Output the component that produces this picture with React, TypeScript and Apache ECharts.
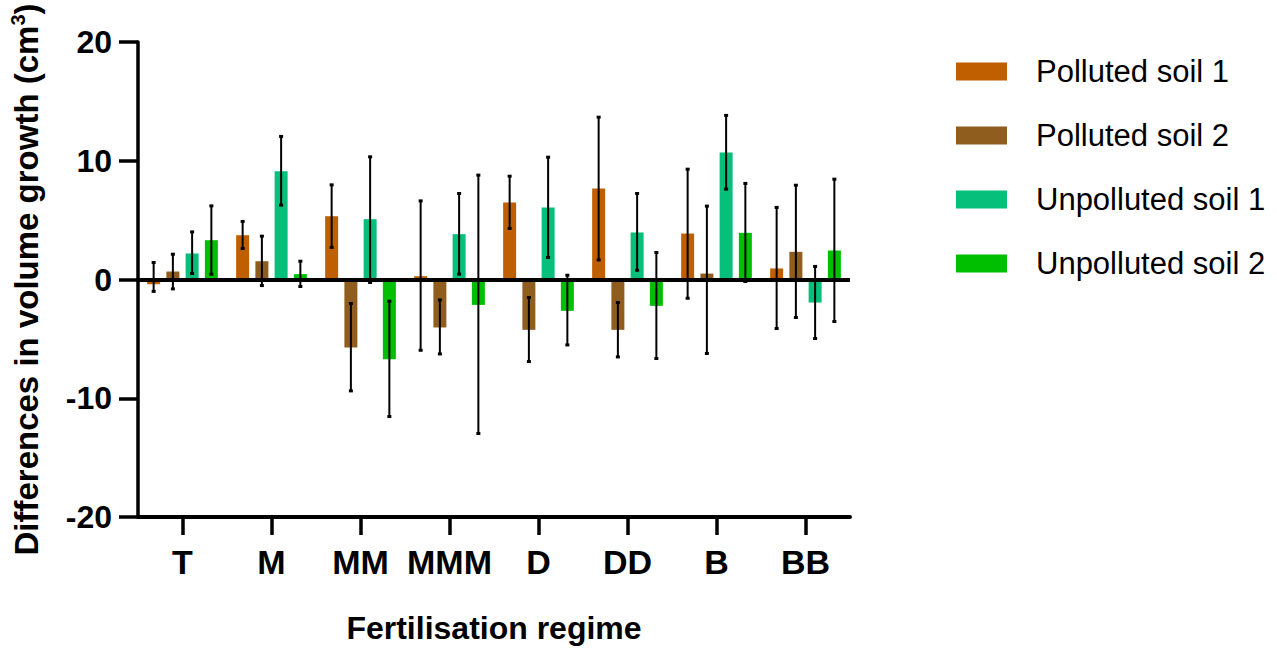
import React, { useEffect, useRef } from "react";
import * as echarts from "echarts";

const categories = ["T", "M", "MM", "MMM", "D", "DD", "B", "BB"];
const seriesNames = ["Polluted soil 1", "Polluted soil 2", "Unpolluted soil 1", "Unpolluted soil 2"];
const seriesColors = ["#C05F00", "#8F5E1F", "#06BF7A", "#00BF00"];
const yTicks = [-20, -10, 0, 10, 20];

const polluted1 = [-0.4, 3.73, 5.33, 0.28, 6.49, 7.67, 3.87, 0.93];
const polluted1Low = [-1.0, 2.61, 2.7, -5.96, 4.3, 1.65, -1.58, -4.13];
const polluted1High = [1.43, 4.89, 7.97, 6.62, 8.7, 13.67, 9.29, 6.07];

const polluted2 = [0.67, 1.54, -5.73, -4.04, -4.24, -4.24, 0.5, 2.33];
const polluted2Low = [-0.79, -0.51, -9.38, -6.27, -6.91, -6.52, -6.23, -3.2];
const polluted2High = [2.13, 3.65, -2.02, -1.72, -1.52, -1.94, 6.18, 7.94];

const unpolluted1 = [2.19, 9.12, 5.08, 3.82, 6.07, 3.96, 10.7, -1.94];
const unpolluted1Low = [0.5, 6.26, -0.25, 0.45, 1.85, 0.78, 7.61, -4.97];
const unpolluted1High = [4.01, 12.05, 10.33, 7.24, 10.3, 7.24, 13.82, 1.1];

const unpolluted2 = [3.31, 0.45, -6.72, -2.14, -2.64, -2.22, 3.93, 2.44];
const unpolluted2Low = [0.45, -0.59, -11.54, -12.97, -5.51, -6.65, -0.17, -3.54];
const unpolluted2High = [6.2, 1.54, -1.83, 8.79, 0.36, 2.27, 8.09, 8.45];

const means = [polluted1, polluted2, unpolluted1, unpolluted2];
const lows = [polluted1Low, polluted2Low, unpolluted1Low, unpolluted2Low];
const highs = [polluted1High, polluted2High, unpolluted1High, unpolluted2High];

const FONT = "'Liberation Sans', Arial, sans-serif";
const BAR_W = 13;
const BAR_GAP_RATIO = 0.48;

export default function App() {
  const ref = useRef<HTMLDivElement>(null);
  useEffect(() => {
    if (!ref.current) return;
    const chart = echarts.init(ref.current, null, { renderer: "svg" });
    const step = BAR_W * (1 + BAR_GAP_RATIO);

    const barSeries = seriesNames.map((name, i) => ({
      name,
      type: "bar",
      data: means[i],
      barWidth: BAR_W,
      barGap: `${BAR_GAP_RATIO * 100}%`,
      itemStyle: { color: seriesColors[i] },
      z: 2,
    }));

    const errSeries = seriesNames.map((name, i) => ({
      name: `err-${i}`,
      type: "custom",
      z: 4,
      data: categories.map((_, k) => [k, lows[i][k], highs[i][k]]),
      renderItem: (params: any, api: any) => {
        const k = api.value(0);
        const x = api.coord([k, 0])[0] + (i - 1.5) * step;
        const y1 = api.coord([k, api.value(1)])[1];
        const y2 = api.coord([k, api.value(2)])[1];
        const st = { stroke: "#000", lineWidth: 2 };
        const cap = { stroke: "#000", lineWidth: 3 };
        return {
          type: "group",
          children: [
            { type: "line", shape: { x1: x, y1, x2: x, y2 }, style: st },
            { type: "line", shape: { x1: x - 2, y1, x2: x + 2, y2: y1 }, style: cap },
            { type: "line", shape: { x1: x - 2, y1: y2, x2: x + 2, y2 }, style: cap },
          ],
        };
      },
      ...(i === 3
        ? {
            markLine: {
              silent: true,
              symbol: ["none", "none"],
              label: { show: false },
              lineStyle: { color: "#000", width: 4, type: "solid" },
              data: [{ yAxis: 0 }],
            },
          }
        : {}),
    }));

    chart.setOption({
      animation: false,
      textStyle: { fontFamily: FONT },
      grid: { left: 134, right: 427, top: 42, bottom: 134, containLabel: false },
      legend: {
        data: seriesNames,
        orient: "vertical",
        left: 956,
        top: 56,
        padding: 0,
        itemWidth: 51,
        itemHeight: 18,
        itemGap: 33,
        icon: "rect",
        textStyle: {
          fontFamily: FONT,
          fontSize: 31,
          color: "#000",
          lineHeight: 30,
          padding: [0, 0, 0, 24],
        },
      },
      xAxis: {
        type: "category",
        data: categories,
        name: "Fertilisation regime",
        nameLocation: "middle",
        nameGap: 95,
        nameTextStyle: { fontFamily: FONT, fontSize: 32, fontWeight: "bold", color: "#000" },
        axisLine: { show: true, onZero: false, lineStyle: { color: "#000", width: 4 } },
        axisTick: {
          show: true,
          alignWithLabel: true,
          interval: 0,
          length: 18,
          lineStyle: { color: "#000", width: 3.5 },
        },
        axisLabel: {
          interval: 0,
          fontFamily: FONT,
          fontSize: 34,
          fontWeight: "bold",
          color: "#000",
          margin: 28,
        },
      },
      yAxis: {
        type: "value",
        min: yTicks[0],
        max: yTicks[yTicks.length - 1],
        interval: 10,
        name: "{a|Differences in volume growth (cm}{s|3}{a|)}",
        nameLocation: "middle",
        nameRotate: 90,
        nameGap: 93,
        nameTextStyle: {
          rich: {
            a: { fontFamily: FONT, fontSize: 33, fontWeight: "bold", color: "#000" },
            s: { fontFamily: FONT, fontSize: 20, fontWeight: "bold", color: "#000", padding: [0, 0, 17, 0] },
          },
        },
        splitLine: { show: false },
        axisLine: { show: true, lineStyle: { color: "#000", width: 3.5 } },
        axisTick: { show: true, length: 19, lineStyle: { color: "#000", width: 3.5 } },
        axisLabel: { fontFamily: FONT, fontSize: 32, fontWeight: "bold", color: "#000", margin: 26 },
      },
      series: [...barSeries, ...errSeries],
    });
    return () => chart.dispose();
  }, []);
  return (
    <div
      ref={ref}
      style={{ position: "fixed", left: 0, top: 0, width: 1277, height: 651, background: "#fff" }}
    />
  );
}
